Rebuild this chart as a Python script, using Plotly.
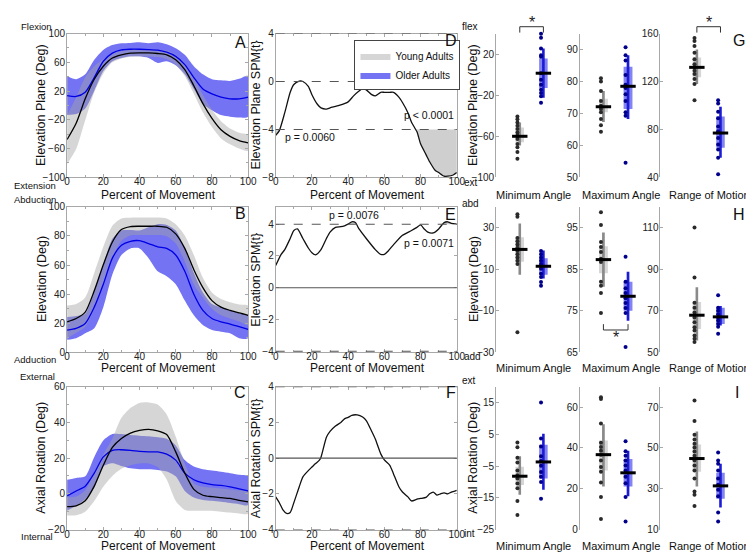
import plotly.graph_objects as go
from plotly.subplots import make_subplots

W, H = 754, 552

# ---------------- time-normalised curves (percent of movement) ----------------
PCT = list(range(0, 101, 5))

# A: elevation plane (deg)
A_YA_MEAN = [-47.4, -24.7, 9.3, 36.5, 54.6, 66, 70.5, 72.8, 73.2, 73.2, 72.3, 70.5, 63.7, 50, 27.4, 2.5, -18, -33.8, -42.9, -48.8, -52]
A_YA_HI = [-13.4, 11.3, 39.3, 54.5, 64.6, 72, 75.5, 77.8, 78.2, 78.2, 77.3, 76.5, 70.7, 59, 38.4, 14.5, -6, -21.8, -31.9, -37.8, -41]
A_YA_LO = [-81.4, -60.7, -20.7, 18.5, 44.6, 60, 65.5, 67.8, 68.2, 68.2, 67.3, 64.5, 56.7, 41, 16.4, -9.5, -30, -45.8, -53.9, -59.8, -63]
A_OA_MEAN = [13.8, 12.5, 18.4, 38.8, 61.5, 72.8, 77.3, 78.2, 78.2, 77.8, 76.9, 74.1, 68.3, 56.9, 38.8, 22.9, 16.1, 11.6, 9.3, 9.3, 11.6]
A_OA_HI = [41, 36.5, 43.3, 63.7, 77.3, 84, 86.4, 87, 87.8, 86.4, 87.8, 85, 79.6, 70.5, 54.6, 43.3, 36.5, 35, 34.2, 37, 41]
A_OA_LO = [-13.4, -12, -4.3, 20.6, 47.8, 61.5, 66, 68.3, 68.3, 66, 59.2, 61.5, 56, 43.3, 22.9, 2.5, -6.6, -13.4, -15.6, -16.6, -15.6]

# B: elevation (deg)
B_YA_MEAN = [21, 23.3, 27.7, 42.3, 60.2, 75.8, 84.3, 86.4, 86.6, 86.6, 86.6, 85.9, 81.4, 71.4, 56.8, 44.5, 35.6, 31.1, 28.9, 27.1, 25.5]
B_YA_HI = [32.2, 33.3, 37.8, 54.6, 72.5, 87, 92, 92.5, 92.6, 92.6, 92.6, 92, 88, 80.3, 66.9, 51.2, 41.2, 36.7, 34.5, 33, 32.2]
B_YA_LO = [9.8, 13.3, 17.6, 30, 47.9, 64.6, 76.6, 80.3, 80.6, 80.6, 80.6, 79.8, 74.8, 62.5, 46.7, 37.8, 30, 25.5, 23.3, 21.2, 18.8]
B_OA_MEAN = [15.4, 16.6, 19.9, 31.1, 46.8, 64.7, 73.6, 76.3, 76.7, 74.7, 72.5, 71.4, 66.9, 55.7, 40, 28.9, 23.3, 21, 19.5, 17.7, 15.9]
B_OA_HI = [24.4, 25, 26.6, 42.3, 60.2, 78, 83.7, 84, 83.7, 85.9, 88, 87.5, 83.7, 71.4, 54.6, 41.2, 33.3, 31, 28.9, 27, 25.5]
B_OA_LO = [8.7, 9.8, 13.2, 16.6, 31.1, 53.5, 66.9, 71.4, 71.4, 64.7, 55.7, 52.3, 46.8, 35.6, 25.5, 18.8, 15.4, 14.3, 13.2, 9.8, 9.8]

# C: axial rotation (deg)
C_YA_MEAN = [-7.2, -6.7, -3.9, 4.3, 16, 26, 31, 34, 35.5, 36.1, 35.3, 33.2, 23.5, 11.6, 2.5, -0.8, -1.6, -2.1, -2.6, -3.6, -4.5]
C_YA_HI = [-2, -1.5, 2, 12, 22, 31, 42.6, 48.1, 50.9, 51.2, 50, 44.5, 32, 17, 6, 4, 3.5, 3, 2.5, 2, 1]
C_YA_LO = [-12.1, -12, -10, -4, 4, 10, 14, 16, 17, 17, 15, 8, -4, -9, -9.5, -9.5, -9.5, -10, -10.5, -11, -11.2]
C_OA_MEAN = [-1.2, 1.6, 4.3, 11.6, 20.7, 24.4, 24.7, 24.4, 23.8, 23.5, 23.5, 22.2, 18.9, 11.6, 7.9, 6.1, 5.2, 4.7, 3.9, 2.8, 1.6]
C_OA_HI = [7.9, 8.9, 9.8, 20.7, 29.9, 33.5, 33.5, 33, 32.6, 32.2, 31.7, 30.8, 27.1, 18.9, 15.3, 13.8, 13.1, 12.4, 11.6, 10.7, 9.8]
C_OA_LO = [-9.4, -6.7, -3, 3.4, 15.3, 17.1, 15.6, 14.3, 13.8, 13.8, 13.4, 12.5, 9.8, 1.6, -2.1, -3.4, -3.9, -4.5, -5.2, -5.8, -6.3]

# ---------------- SPM{t} curves ----------------
T_CRIT = 4.0
D_X = [0, 2, 5, 8, 10, 13, 15, 18, 20, 23, 25, 28, 30, 35, 40, 43, 46, 48, 50, 53, 55, 58, 60, 63, 65, 68, 70, 73, 75, 78, 80, 83, 85, 88, 90, 93, 95, 98, 100]
D_T = [-4.5, -4.1, -2.6, -0.9, -0.25, 0.03, 0, -0.4, -1.1, -1.9, -2.2, -2.3, -2.2, -2.0, -1.7, -1.2, -0.8, -0.6, -0.7, -1.1, -1.2, -0.9, -0.9, -0.9, -0.9, -1.3, -1.75, -2.6, -3.4, -4.2, -5.2, -6.1, -6.7, -7.4, -7.6, -7.9, -7.9, -7.8, -7.6]
E_X = [0, 3, 5, 8, 10, 12, 15, 18, 20, 22, 25, 28, 30, 33, 36, 38, 40, 42, 44, 46, 50, 55, 58, 60, 62, 65, 70, 75, 78, 80, 82, 84, 87, 90, 93, 95, 97, 100]
E_T = [1.4, 2.1, 2.4, 3.1, 3.6, 3.7, 3.1, 2.5, 2.2, 2.07, 2.4, 3.1, 3.5, 3.8, 3.84, 3.9, 4.0, 4.15, 4.1, 3.7, 3.1, 2.4, 2.1, 2.1, 2.3, 2.7, 3.3, 3.6, 3.8, 3.95, 3.7, 3.5, 3.45, 3.7, 4.1, 4.15, 4.05, 4.0]
F_X = [0, 2, 4, 6, 8, 10, 13, 15, 18, 20, 22, 24, 25, 28, 30, 33, 36, 38, 40, 42, 45, 48, 50, 53, 55, 58, 60, 63, 65, 68, 70, 73, 75, 78, 80, 83, 85, 87, 89, 91, 93, 95, 97, 100]
F_T = [-2.17, -2.5, -2.9, -3.1, -3.04, -2.5, -1.6, -1.05, -0.7, -0.5, -0.3, -0.13, 0.05, 1.17, 1.5, 1.8, 2.0, 2.2, 2.28, 2.4, 2.42, 2.3, 2.1, 1.5, 1.07, 0.24, -0.1, -0.4, -0.87, -1.6, -1.9, -2.17, -2.4, -2.3, -2.26, -2.2, -2.0, -1.9, -2.07, -2.0, -1.95, -2.0, -1.9, -1.8]

# ---------------- box summaries: [whisker low, q1, median, q3, whisker high] ----------------
G_MIN_YA_BOX = [-69, -65.8, -60, -51.4, -46.6]
G_MIN_YA_PTS = [-40.8, -43.4, -46.6, -49.8, -53, -56.2, -59.4, -60, -62.6, -67.4, -70.6, -75.4, -81.8]
G_MIN_OA_BOX = [-22.6, -13, 1.4, 15.8, 25.4]
G_MIN_OA_PTS = [39.8, 36, 25.4, 19, 17.4, 1.4, -5, -9.8, -14.6, -17.8, -21, -27.4]
G_MAX_YA_BOX = [67.3, 70.4, 72.1, 74.6, 77]
G_MAX_YA_PTS = [81, 80, 77, 73.9, 72.4, 71.4, 70.4, 68.3, 66.3, 64.3]
G_MAX_OA_BOX = [68.3, 71.4, 78.5, 84.6, 88.2]
G_MAX_OA_PTS = [90.7, 88.2, 86.6, 82, 79, 78, 76, 73.9, 70.4, 69.3, 54.6]
G_ROM_YA_BOX = [118, 123.6, 131.8, 140, 146.8]
G_ROM_YA_PTS = [156.4, 153.7, 149.6, 144, 138.6, 134.5, 131.8, 129, 126.3, 122, 118, 104.4]
G_ROM_OA_BOX = [56.4, 64.7, 77, 90.7, 99]
G_ROM_OA_PTS = [104.4, 101.6, 94.8, 89.3, 82.5, 78.4, 72.9, 67.4, 63.3, 56.4, 42.7]

H_MIN_YA_BOX = [7.3, 13.6, 19.5, 25.3, 32]
H_MIN_YA_PTS = [36.4, 35.2, 25, 23.4, 21.9, 20.3, 18.75, 17.2, 15.6, 14, 12.5, -20.3]
H_MIN_OA_BOX = [5.5, 7.3, 11.4, 15.2, 19]
H_MIN_OA_PTS = [18.75, 17.2, 15.6, 14, 12.5, 10.2, 7.8, 6.25, 3.9, 2]
H_MAX_YA_BOX = [80.8, 84, 87.3, 90.5, 93.8]
H_MAX_YA_PTS = [98.7, 95.6, 91.5, 90.3, 89.1, 87.5, 86.7, 82, 81, 79.3, 74.5]
H_MAX_OA_BOX = [72.6, 75, 78.5, 82, 84.4]
H_MAX_OA_PTS = [88, 82, 80.4, 79.3, 78, 76.9, 75.7, 74.5, 66.3]
H_ROM_YA_BOX = [55.8, 61.3, 67.9, 74.2, 81.3]
H_ROM_YA_PTS = [110, 86, 73.9, 71.5, 69.2, 66.8, 64.5, 62.1, 60.5, 58.2, 56.6, 55]
H_ROM_OA_BOX = [62.9, 63.7, 67.1, 71.5, 72.3]
H_ROM_OA_PTS = [77.5, 71.5, 70, 68.4, 66.8, 65.3, 63.7, 62.4, 59]

I_MIN_YA_BOX = [-14, -11, -8.2, -5.2, -1.9]
I_MIN_YA_PTS = [2.4, 0.9, -2.4, -3.9, -6.4, -7.9, -8.9, -10.5, -12, -16, -20.4]
I_MIN_OA_BOX = [-12.5, -8.9, -3.7, 1.7, 5.2]
I_MIN_OA_PTS = [15, 3.7, 1.2, -1.9, -3.4, -4.9, -6.9, -8.4, -10, -15.3]
I_MAX_YA_BOX = [21.1, 29, 36.7, 43.7, 51.6]
I_MAX_YA_PTS = [64.8, 64, 52, 42.5, 40.5, 38.6, 36.7, 33.8, 30.6, 28.3, 23, 15.9, 5.2]
I_MAX_OA_BOX = [16.3, 21.1, 27.8, 34.6, 38.6]
I_MAX_OA_PTS = [43.3, 38.4, 36.2, 33.8, 31.4, 29, 25.9, 22.7, 16, 4]
I_ROM_YA_BOX = [31.1, 38.3, 44.8, 51.7, 58]
I_ROM_YA_PTS = [73.2, 63.2, 56.5, 54.1, 52.1, 50.2, 48.3, 46.2, 43.8, 41.4, 39, 35, 28.7, 27.1, 21.6]
I_ROM_OA_BOX = [20.8, 25.1, 31.4, 37.8, 42.2]
I_ROM_OA_PTS = [47.8, 43.8, 42.2, 39, 35, 31.9, 29.5, 26.3, 18.4, 14]

BOX_LABELS = ["Minimum Angle", "Maximum Angle", "Range of Motion"]
GROUP_POS = [1, 2]  # young, older

# colours
YA_BAND = "rgba(165,165,165,0.45)"
OA_BAND = "rgba(80,80,240,0.80)"
YA_LINE = "#000000"
OA_LINE = "#0000e6"
YA_BOX, YA_WHISK, YA_DOT = "#d6d6d6", "#8a8a8a", "#2a2a2a"
OA_BOX, OA_WHISK, OA_DOT = "#8383f2", "#1c1cd6", "#00008b"
FRAME = "#a8a8a8"
FONT = "Liberation Sans, Arial, sans-serif"

# layout geometry in pixels
COLS_PX = [(57, 241), (269, 453), (493, 568), (578, 650), (660, 750)]
ROWS_PX = [(20, 167), (197, 346), (381, 527)]
BOX_XRANGE = [[0, 3.125], [0.04, 2.92], [-0.54, 3.21]]


def px(x, y):
    return x / W, 1 - y / H


def key(r, c):
    k = r * 5 + c + 1
    return "" if k == 1 else str(k)


fig = make_subplots(rows=3, cols=5)

# ---- time panels ----
time_data = [
    (A_YA_MEAN, A_YA_LO, A_YA_HI, A_OA_MEAN, A_OA_LO, A_OA_HI),
    (B_YA_MEAN, B_YA_LO, B_YA_HI, B_OA_MEAN, B_OA_LO, B_OA_HI),
    (C_YA_MEAN, C_YA_LO, C_YA_HI, C_OA_MEAN, C_OA_LO, C_OA_HI),
]
for r, (ym, ylo, yhi, om, olo, ohi) in enumerate(time_data):
    first = r == 0
    fig.add_trace(go.Scatter(x=PCT + PCT[::-1], y=ohi + olo[::-1], fill="toself", fillcolor=OA_BAND,
                             mode="lines", line=dict(width=0, shape="spline", smoothing=0.7),
                             name="Older Adults", showlegend=first, legendrank=2, hoverinfo="skip"),
                  row=r + 1, col=1)
    fig.add_trace(go.Scatter(x=PCT + PCT[::-1], y=yhi + ylo[::-1], fill="toself", fillcolor=YA_BAND,
                             mode="lines", line=dict(width=0, shape="spline", smoothing=0.7),
                             name="Young Adults", showlegend=first, legendrank=1, hoverinfo="skip"),
                  row=r + 1, col=1)
    fig.add_trace(go.Scatter(x=PCT, y=om, mode="lines", showlegend=False,
                             line=dict(color=OA_LINE, width=1.3, shape="spline", smoothing=0.7)),
                  row=r + 1, col=1)
    fig.add_trace(go.Scatter(x=PCT, y=ym, mode="lines", showlegend=False,
                             line=dict(color=YA_LINE, width=1.3, shape="spline", smoothing=0.7)),
                  row=r + 1, col=1)


# ---- SPM panels ----
def exceed(x, y, thr, below):
    xs, ys, seg = [], [], []
    for i in range(len(x)):
        out = y[i] < thr if below else y[i] > thr
        if out:
            if not seg:
                if i > 0:
                    xc = x[i - 1] + (thr - y[i - 1]) * (x[i] - x[i - 1]) / (y[i] - y[i - 1])
                else:
                    xc = x[0]
                seg.append((xc, thr))
            seg.append((x[i], y[i]))
        elif seg:
            xc = x[i - 1] + (thr - y[i - 1]) * (x[i] - x[i - 1]) / (y[i] - y[i - 1])
            seg.append((xc, thr))
            xs += [p[0] for p in seg] + [None]
            ys += [p[1] for p in seg] + [None]
            seg = []
    if seg:
        seg.append((x[-1], thr))
        xs += [p[0] for p in seg]
        ys += [p[1] for p in seg]
    return xs, ys


spm = [(D_X, D_T), (E_X, E_T), (F_X, F_T)]
for r, (sx, st) in enumerate(spm):
    for below, thr in ((True, -T_CRIT), (False, T_CRIT)):
        xs, ys = exceed(sx, st, thr, below)
        if xs:
            fig.add_trace(go.Scatter(x=xs, y=ys, fill="toself", fillcolor="#cfcfcf", mode="lines",
                                     line=dict(width=0, shape="spline", smoothing=0.6),
                                     showlegend=False, hoverinfo="skip"), row=r + 1, col=2)
    fig.add_trace(go.Scatter(x=sx, y=st, mode="lines", showlegend=False,
                             line=dict(color="#111", width=1.3, shape="spline", smoothing=0.6)),
                  row=r + 1, col=2)
    k = key(r, 1)
    for lvl in (-T_CRIT, T_CRIT):
        fig.add_shape(type="line", xref=f"x{k} domain", yref=f"y{k}", x0=0, x1=1, y0=lvl, y1=lvl,
                      line=dict(color="#555", width=1.1, dash="dash"))
    fig.add_shape(type="line", xref=f"x{k} domain", yref=f"y{k}", x0=0, x1=1, y0=0, y1=0,
                  line=dict(color="#555", width=1.1, dash="dash" if r == 0 else "solid"))

# ---- box panels ----
box_data = [
    [(G_MIN_YA_BOX, G_MIN_YA_PTS, G_MIN_OA_BOX, G_MIN_OA_PTS),
     (G_MAX_YA_BOX, G_MAX_YA_PTS, G_MAX_OA_BOX, G_MAX_OA_PTS),
     (G_ROM_YA_BOX, G_ROM_YA_PTS, G_ROM_OA_BOX, G_ROM_OA_PTS)],
    [(H_MIN_YA_BOX, H_MIN_YA_PTS, H_MIN_OA_BOX, H_MIN_OA_PTS),
     (H_MAX_YA_BOX, H_MAX_YA_PTS, H_MAX_OA_BOX, H_MAX_OA_PTS),
     (H_ROM_YA_BOX, H_ROM_YA_PTS, H_ROM_OA_BOX, H_ROM_OA_PTS)],
    [(I_MIN_YA_BOX, I_MIN_YA_PTS, I_MIN_OA_BOX, I_MIN_OA_PTS),
     (I_MAX_YA_BOX, I_MAX_YA_PTS, I_MAX_OA_BOX, I_MAX_OA_PTS),
     (I_ROM_YA_BOX, I_ROM_YA_PTS, I_ROM_OA_BOX, I_ROM_OA_PTS)],
]
for r, row in enumerate(box_data):
    for j, (yb, yp, ob, op) in enumerate(row):
        for pos, b, pts, cbox, cwh, cdot in ((GROUP_POS[0], yb, yp, YA_BOX, YA_WHISK, YA_DOT),
                                            (GROUP_POS[1], ob, op, OA_BOX, OA_WHISK, OA_DOT)):
            lo, q1, med, q3, hi = b
            fig.add_trace(go.Bar(x=[pos], y=[q3 - q1], base=[q1], width=[0.36], marker=dict(color=cbox, line=dict(width=0)),
                                 showlegend=False), row=r + 1, col=j + 3)
            fig.add_trace(go.Bar(x=[pos], y=[hi - lo], base=[lo], width=[0.11], marker=dict(color=cwh, line=dict(width=0)),
                                 showlegend=False), row=r + 1, col=j + 3)
            fig.add_trace(go.Scatter(x=[pos - 0.1] * len(pts), y=pts, mode="markers", cliponaxis=False,
                                     marker=dict(size=4, color=cdot), showlegend=False), row=r + 1, col=j + 3)
            fig.add_trace(go.Scatter(x=[pos], y=[med], mode="markers", cliponaxis=False,
                                     marker=dict(symbol="line-ew", size=11, line=dict(width=3, color="black")),
                                     showlegend=False), row=r + 1, col=j + 3)

# ---- axes ----
TIME_Y = [
    dict(range=[-100, 100], tickvals=[-100, -60, -20, 20, 60, 100], minor=dict(dtick=20, ticks="inside", ticklen=2, tickcolor=FRAME)),
    dict(range=[0, 100], tickvals=[0, 20, 40, 60, 80, 100], minor=dict(dtick=10, ticks="inside", ticklen=2, tickcolor=FRAME)),
    dict(range=[-20, 60], tickvals=[-20, 0, 20, 40, 60], minor=dict(dtick=10, ticks="inside", ticklen=2, tickcolor=FRAME)),
]
SPM_Y = [
    dict(range=[-8, 4], tickvals=[-8, -4, 0, 4]),
    dict(range=[-4.08, 5.1], tickvals=[-4, -2, 0, 2, 4]),
    dict(range=[-4, 4], tickvals=[-4, -2, 0, 2, 4]),
]
BOX_Y = [
    [dict(range=[-100, 40], tickvals=[-100, -60, -20, 20]), dict(range=[50, 95], tickvals=[50, 60, 70, 80, 90]),
     dict(range=[40, 160], tickvals=[40, 80, 120, 160])],
    [dict(range=[-30, 40], tickvals=[-30, -10, 10, 30]), dict(range=[65, 100], tickvals=[65, 75, 85, 95]),
     dict(range=[50, 120], tickvals=[50, 70, 90, 110])],
    [dict(range=[-25, 20], tickvals=[-25, -15, -5, 5, 15]), dict(range=[0, 70], tickvals=[0, 20, 40, 60]),
     dict(range=[10, 80], tickvals=[10, 30, 50, 70])],
]
TICKFONT = dict(size=10, color="#222")
frame = dict(showline=True, mirror="allticks", linecolor=FRAME, linewidth=1, ticks="inside", ticklen=3,
             tickcolor=FRAME, showgrid=False, zeroline=False, tickfont=TICKFONT)
for r in range(3):
    ytop, ybot = ROWS_PX[r]
    ydom = [1 - ybot / H, 1 - ytop / H]
    for c in range(5):
        k = key(r, c)
        xdom = [COLS_PX[c][0] / W, COLS_PX[c][1] / W]
        xa = fig.layout["xaxis" + k]
        ya = fig.layout["yaxis" + k]
        if c < 2:
            xa.update(domain=xdom, range=[0, 100], tickvals=[0, 20, 40, 60, 80, 100], ticklabelstandoff=-5,
                      minor=dict(dtick=10, ticks="inside", ticklen=2, tickcolor=FRAME), **frame)
            ya.update(domain=ydom, ticklabelstandoff=-1, **frame, **(TIME_Y[r] if c == 0 else SPM_Y[r]))
        else:
            xa.update(domain=xdom, range=BOX_XRANGE[c - 2], showline=False, showticklabels=False,
                      ticks="", showgrid=False, zeroline=False)
            ya.update(domain=ydom, showline=True, linecolor=FRAME, ticks="inside", ticklen=3, tickcolor=FRAME,
                      showgrid=False, zeroline=False, tickfont=TICKFONT, ticklabelstandoff=-1, **BOX_Y[r][c - 2])

# ---- text ----
ann = []


def text(t, x, y, size=12, xanchor="center", angle=0, color="#111"):
    fx, fy = px(x, y)
    ann.append(dict(text=t, x=fx, y=fy, xref="paper", yref="paper", showarrow=False, xanchor=xanchor,
                    yanchor="middle", textangle=angle, font=dict(size=size, color=color)))


for lab, x, y in [("A", 233, 29), ("B", 233, 204), ("C", 233, 387), ("D", 447, 27), ("E", 447, 205),
                  ("F", 447, 387), ("G", 740, 27), ("H", 740, 205), ("I", 738, 387)]:
    text(lab, x, y, size=16)

for lab, x, y in [("Flexion", 8, 13), ("Extension", 1, 175), ("Abduction", 1, 190), ("Adduction", 1, 353),
                  ("External", 7, 371), ("Internal", 8, 534)]:
    text(lab, x, y, size=9.5, xanchor="left")
for lab, x, y in [("flex", 456, 13), ("ext", 458, 172), ("abd", 456, 194), ("add", 458, 350),
                  ("ext", 456, 375), ("int", 458, 531)]:
    text(lab, x, y, size=10, xanchor="left")

Y_TITLES = [("Elevation Plane (Deg)", "Elevation Plane SPM{t}"), ("Elevation (Deg)", "Elevation SPM{t}"),
            ("Axial Rotation (Deg)", "Axial Rotation SPM{t}")]
XT_Y = [185, 362, 544]
for r in range(3):
    yc = (ROWS_PX[r][0] + ROWS_PX[r][1]) / 2
    text(Y_TITLES[r][0], 31, yc, size=12.5, angle=-90)
    text(Y_TITLES[r][1], 249, yc, size=12.5, angle=-90)
    text(Y_TITLES[r][0], 470, yc, size=12.5, angle=-90)
    text("Percent of Movement", 150, XT_Y[r], size=12)
    text("Percent of Movement", 362, XT_Y[r], size=12)
    for j, lab in enumerate(BOX_LABELS):
        text(lab, [531, 620, 710][j], XT_Y[r], size=11)

# p-values (data coordinates)
for t, x, y, xa, k in [("p = 0.0060", 3.8, -4.6, "left", key(0, 1)), ("p < 0.0001", 99.5, -2.8, "right", key(0, 1)),
                       ("p = 0.0076", 43, 4.55, "center", key(1, 1)), ("p = 0.0071", 99.5, 2.8, "right", key(1, 1))]:
    ann.append(dict(text=t, x=x, y=y, xref="x" + k, yref="y" + k, showarrow=False, xanchor=xa,
                    yanchor="middle", font=dict(size=10.5, color="#111")))

# significance brackets
for k in (key(0, 2), key(0, 4)):
    y0, y1 = px(0, 19)[1], px(0, 13)[1]
    fig.add_shape(type="path", xref="x" + k, yref="paper",
                  path=f"M {GROUP_POS[0]} {y0} L {GROUP_POS[0]} {y1} L {GROUP_POS[1]} {y1} L {GROUP_POS[1]} {y0}",
                  line=dict(color="#333", width=1))
    ann.append(dict(text="*", x=sum(GROUP_POS) / 2, y=px(0, 9)[1], xref="x" + k, yref="paper", showarrow=False,
                    font=dict(size=16, color="#222"), yanchor="middle"))
k = key(1, 3)
fig.add_shape(type="path", xref="x" + k, yref="y" + k,
              path=f"M {GROUP_POS[0]} 71.8 L {GROUP_POS[0]} 70.4 L {GROUP_POS[1]} 70.4 L {GROUP_POS[1]} 71.8",
              line=dict(color="#333", width=1))
ann.append(dict(text="*", x=sum(GROUP_POS) / 2, y=68.6, xref="x" + k, yref="y" + k, showarrow=False,
                font=dict(size=16, color="#222"), yanchor="middle"))

fig.update_layout(
    width=W, height=H, margin=dict(l=0, r=0, t=0, b=0), paper_bgcolor="white", plot_bgcolor="white",
    font=dict(family=FONT, size=12, color="#111"), barmode="overlay", annotations=ann,
    legend=dict(x=349 / W, y=1 - 27 / H, xanchor="left", yanchor="top", bordercolor="#444", borderwidth=1,
                bgcolor="white", font=dict(size=10), itemwidth=30, tracegroupgap=0),
)

fig.write_html("out.html")
